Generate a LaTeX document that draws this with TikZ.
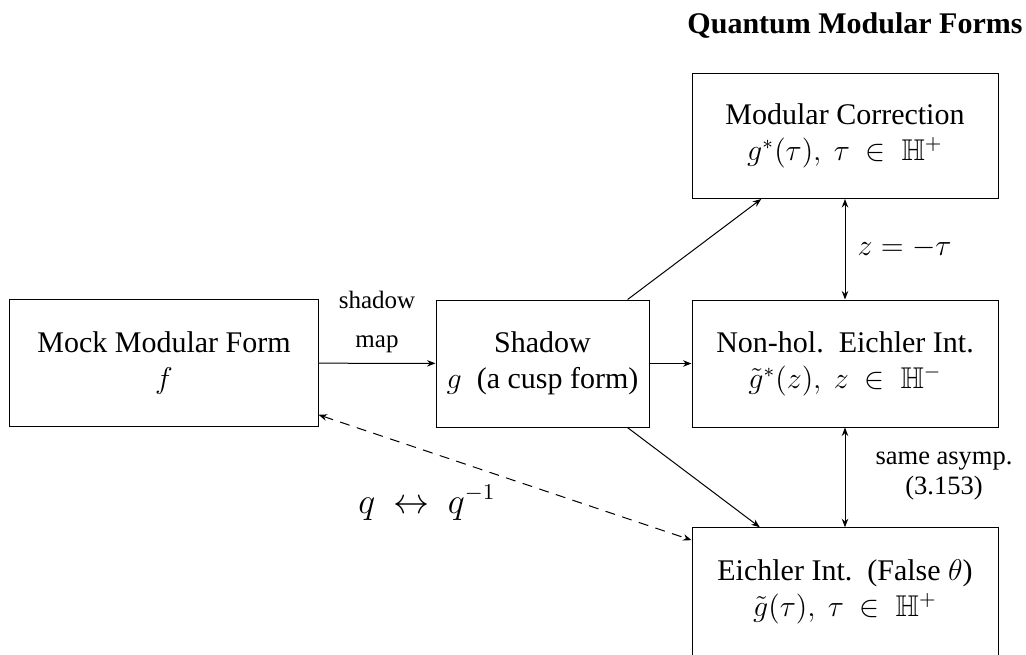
\documentclass[tikz,border=0pt]{standalone}
\usepackage{amsmath,amssymb}
\usepackage[no-math]{fontspec}
\setmainfont{Liberation Serif}
\usetikzlibrary{arrows.meta}
\begin{document}
\begin{tikzpicture}[x=0.4pt,y=-0.4pt,
  box/.style={draw, line width=0.4pt, align=center, inner sep=0pt,
    font=\fontsize{12}{14.5}\selectfont},
  arr/.style={line width=0.4pt, -{Stealth[length=3.4pt,width=2.6pt]}},
  darr/.style={line width=0.4pt, {Stealth[length=3.4pt,width=2.6pt]}-{Stealth[length=3.4pt,width=2.6pt]}},
  lbl/.style={inner sep=0pt, align=center}]
\useasboundingbox (0,0) rectangle (1026,654);
\clip (0,0) rectangle (1026,654);

\node[lbl, anchor=base east, font=\fontsize{12}{14.5}\selectfont\bfseries] (title) at (1023,33) {Quantum Modular Forms};

\node[box, minimum width=123.2pt, minimum height=50.8pt] (mock) at (164,363)
  {Mock Modular Form\\ $f$};
\node[box, minimum width=85.2pt, minimum height=50.8pt] (shadow) at (542.5,363.5)
  {Shadow\\ $g$\ \ (a\ cusp\ form)};
\node[box, minimum width=122.4pt, minimum height=50pt] (mod) at (845,136)
  {Modular Correction\\ $g^{*}(\tau),\ \tau\ \in\ \mathbb{H}^{+}$};
\node[box, minimum width=122.4pt, minimum height=50.8pt] (nonhol) at (845,363.5)
  {Non-hol.\ \ Eichler Int.\\ $\tilde{g}^{*}(z),\ z\ \in\ \mathbb{H}^{-}$};
\node[box, minimum width=122.4pt, minimum height=51pt] (eich) at (845,591.5)
  {Eichler Int.\ \ (False $\theta$)\\ $\tilde{g}(\tau),\ \tau\ \in\ \mathbb{H}^{+}$};

\draw[arr] (mock) -- (shadow);
\draw[arr] (shadow) -- (nonhol);
\draw[arr] (shadow) -- (mod);
\draw[arr] (shadow) -- (eich);
\draw[darr] (mod) -- (nonhol);
\draw[darr] (nonhol) -- (eich);
\draw[darr, dashed, dash pattern=on 4pt off 3pt] (mock) -- (eich);

\node[lbl, anchor=base, font=\fontsize{10}{15.6}\selectfont] (smap) at (377,347) {shadow\\ map};
\node[lbl, anchor=base west, font=\fontsize{12.5}{15}\selectfont] (zt) at (857,255) {$z = -\tau$};
\node[lbl, anchor=base, font=\fontsize{10.6}{11.8}\selectfont] (sa) at (944,494) {same asymp.\\ (3.153)};
\node[lbl, anchor=base, font=\fontsize{13.4}{16}\selectfont] (qq) at (427,513) {$q\ \leftrightarrow\ q^{-1}$};
\end{tikzpicture}
\end{document}
